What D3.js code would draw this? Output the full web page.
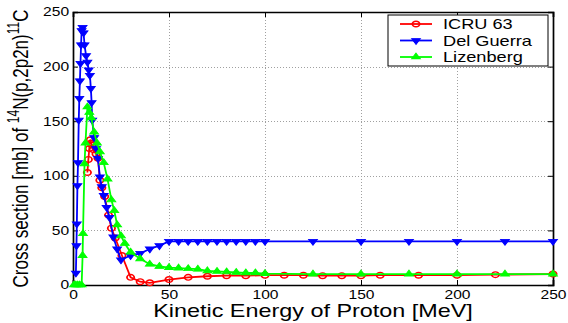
<!DOCTYPE html>
<html lang="en">
<head>
<meta charset="UTF-8">
<title>14N(p,2p2n)11C cross section</title>
<script src="https://d3js.org/d3.v7.min.js"></script>
<style>
    body { margin: 0; background: #fff; }
    svg { display: block; font-family: "Liberation Sans", Arial, Helvetica, sans-serif; }
</style>
</head>
<body>
<div id="chart"></div>
<script>
    // ICRU 63 (red, circles)
    const icruE = [7.5, 8, 8.5, 9, 9.5, 10, 10.5, 12, 13, 14, 15, 16.5, 18.5, 20, 22, 25.5, 30, 35, 40, 50, 60, 70, 80, 90, 100, 110, 120, 130, 140, 150, 160, 180, 200, 220, 250];
    const icruS = [103, 115, 125, 133, 130, 128, 124, 120, 116, 96, 89, 81, 64, 52, 43, 27, 7, 3, 2, 5, 7, 8, 8.5, 8.5, 9, 9, 9, 8.5, 8.5, 8.5, 9, 9, 9, 9.5, 10];

    // Del Guerra (blue, down triangles)
    const guerraE = [1.5, 1.8, 2, 2.3, 2.6, 3, 3.3, 3.6, 3.9, 4.2, 4.5, 5, 5.5, 6, 6.8, 7.5, 8.2, 8.8, 9.3, 9.7, 10, 11, 12, 13, 14, 15, 16, 17.5, 19, 21, 23, 25, 30, 35, 40, 45, 50, 55, 60, 65, 70, 75, 80, 85, 90, 95, 100, 125, 150, 175, 200, 225, 250];
    const guerraS = [11, 36, 56, 91, 112, 151, 171, 187, 203, 220, 233, 236, 231, 220, 210, 204, 197, 192, 180, 167, 151, 135, 125, 116, 99, 90, 82, 71, 62, 44, 33, 23, 27, 29, 33, 36, 40, 40, 40, 40, 40, 40, 40, 40, 40, 40, 40, 40, 40, 40, 40, 40, 40];

    // Lizenberg (green, up triangles)
    const lizE = [0.5, 1.5, 2.5, 3.5, 4.5, 5, 5.2, 6, 6.5, 7.5, 8.5, 9.5, 11, 12.5, 14, 16, 18, 20, 21.5, 23, 25, 27, 30, 35, 40, 45, 50, 55, 60, 65, 70, 75, 80, 85, 90, 95, 100, 125, 150, 175, 200, 225, 250];
    const lizS = [0, 0, 0, 0, 0, 27, 47, 111, 130, 163, 158, 153, 140, 130, 122, 112, 97, 78, 68, 55, 45, 38, 30, 24, 19, 17, 16, 15.5, 15, 14.5, 13, 12.5, 12, 11.5, 11, 11, 10.5, 10, 10, 10, 10, 10, 10];

    const seriesNames = ["ICRU 63", "Del Guerra", "Lizenberg"];
    const seriesColors = ["#ff0000", "#0000ff", "#00ff00"];
    const xTicks = [0, 50, 100, 150, 200, 250];
    const yTicks = [0, 50, 100, 150, 200, 250];

    const W = 568, H = 323;
    const margin = { top: 12, right: 15, bottom: 38, left: 73 };
    const stretch = 1.3; // the reference is squeezed wider than tall

    const x = d3.scaleLinear().domain([0, 250]).range([margin.left, W - margin.right]);
    const y = d3.scaleLinear().domain([0, 250]).range([H - margin.bottom, margin.top]);

    const svg = d3.select("#chart").append("svg")
        .attr("width", W)
        .attr("height", H);

    svg.append("rect").attr("width", W).attr("height", H).attr("fill", "#fff");

    // grid
    const grid = svg.append("g").attr("stroke", "#a0a0a0").attr("stroke-width", 1).attr("stroke-dasharray", "1,2");
    grid.selectAll(".gx").data(xTicks.slice(1, -1)).enter().append("line")
        .attr("x1", d => Math.round(x(d)) + 0.5).attr("x2", d => Math.round(x(d)) + 0.5)
        .attr("y1", y(0)).attr("y2", y(250));
    grid.selectAll(".gy").data(yTicks.slice(1, -1)).enter().append("line")
        .attr("y1", d => Math.round(y(d)) + 0.5).attr("y2", d => Math.round(y(d)) + 0.5)
        .attr("x1", x(0)).attr("x2", x(250));

    // axes (ticks inward on all four sides)
    svg.append("g")
        .attr("transform", `translate(0,${y(0)})`)
        .call(d3.axisBottom(x).tickValues(xTicks).tickSize(-5).tickPadding(5).tickFormat(d3.format("d")));
    svg.append("g")
        .attr("transform", `translate(${x(0)},0)`)
        .call(d3.axisLeft(y).tickValues(yTicks).tickSize(-5).tickPadding(3).tickFormat(d3.format("d")));
    svg.append("g")
        .attr("transform", `translate(0,${y(250)})`)
        .call(d3.axisTop(x).tickValues(xTicks).tickSize(-5).tickFormat(""));
    svg.append("g")
        .attr("transform", `translate(${x(250)},0)`)
        .call(d3.axisRight(y).tickValues(yTicks).tickSize(-5).tickFormat(""));

    svg.selectAll(".domain").attr("stroke", "#000").attr("stroke-width", 1.7);
    svg.selectAll(".tick line").attr("stroke", "#000");
    svg.selectAll(".tick text")
        .attr("font-size", 12)
        .attr("fill", "#000")
        .attr("font-family", "Liberation Sans, Arial, sans-serif")
        .attr("transform", `scale(${stretch},1)`);

    // series
    const series = [
        { e: icruE, s: icruS, marker: "circle" },
        { e: guerraE, s: guerraS, marker: "down" },
        { e: lizE, s: lizS, marker: "up" }
    ];

    const line = d3.line().x(d => x(d[0])).y(d => y(d[1]));
    const tri = d3.symbol().type(d3.symbolTriangle).size(20);

    function drawMarker(g, kind, color) {
        if (kind === "circle") {
            g.append("circle").attr("r", 2.8)
                .attr("fill", "none").attr("stroke", color).attr("stroke-width", 1.4);
        } else {
            g.append("path").attr("d", tri())
                .attr("transform", kind === "down" ? "rotate(180)" : null)
                .attr("fill", color).attr("stroke", color).attr("stroke-width", 0.8);
        }
    }

    series.forEach((sr, i) => {
        const pts = sr.e.map((e, k) => [e, sr.s[k]]);
        const color = seriesColors[i];
        svg.append("path")
            .attr("d", line(pts))
            .attr("fill", "none")
            .attr("stroke", color)
            .attr("stroke-width", 1.8);
        svg.append("g").selectAll("g").data(pts).enter().append("g")
            .attr("transform", d => `translate(${x(d[0])},${y(d[1])}) scale(${stretch},1)`)
            .each(function () { drawMarker(d3.select(this), sr.marker, color); });
    });

    // legend
    const lg = svg.append("g");
    lg.append("rect")
        .attr("x", 388).attr("y", 15).attr("width", 160).attr("height", 51)
        .attr("fill", "#fff").attr("stroke", "#000").attr("stroke-width", 1);
    series.forEach((sr, i) => {
        const ly = 24 + i * 16.5;
        const color = seriesColors[i];
        lg.append("line").attr("x1", 400).attr("x2", 432).attr("y1", ly).attr("y2", ly)
            .attr("stroke", color).attr("stroke-width", 1.8);
        const m = lg.append("g").attr("transform", `translate(416,${ly}) scale(${stretch},1)`);
        drawMarker(m, sr.marker, color);
        lg.append("text")
            .attr("transform", `translate(443,${ly + 5}) scale(${stretch},1)`)
            .attr("font-size", 14)
            .text(seriesNames[i]);
    });

    // axis labels
    svg.append("text")
        .attr("transform", `translate(${(x(0) + x(250)) / 2},317) scale(${stretch},1)`)
        .attr("text-anchor", "middle")
        .attr("font-size", 18)
        .text("Kinetic Energy of Proton [MeV]");

    const yl = svg.append("text")
        .attr("transform", `translate(28,${(y(0) + y(250)) / 2}) rotate(-90) scale(1,${stretch})`)
        .attr("text-anchor", "middle")
        .attr("font-size", 17);
    yl.append("tspan").text("Cross section [mb] of ");
    yl.append("tspan").attr("font-size", 12).attr("dy", -7).text("14");
    yl.append("tspan").attr("dy", 7).text("N(p,2p2n)");
    yl.append("tspan").attr("font-size", 12).attr("dy", -7).text("11");
    yl.append("tspan").attr("dy", 7).text("C");
</script>
</body>
</html>
